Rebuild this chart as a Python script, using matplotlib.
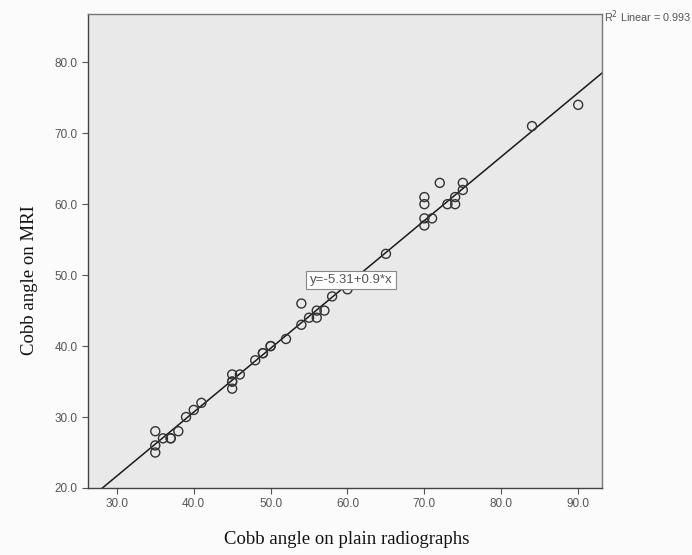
import matplotlib
matplotlib.use("Agg")
import matplotlib.pyplot as plt
import numpy as np

x_vals = [35, 35, 35, 36, 37, 37, 38, 39, 40, 41, 45, 45, 45, 45, 46, 48, 49, 49, 50, 50,
          52, 54, 54, 55, 56, 56, 57, 58, 60, 65, 70, 70, 70, 70, 71, 72, 73, 74, 74, 75, 75, 84, 90]
y_vals = [28, 26, 25, 27, 27, 27, 28, 30, 31, 32, 36, 35, 35, 34, 36, 38, 39, 39, 40, 40,
          41, 46, 43, 44, 45, 44, 45, 47, 48, 53, 61, 60, 58, 57, 58, 63, 60, 61, 60, 63, 62, 71, 74]
intercept = -5.31
slope = 0.9
r2_label = "R$^2$ Linear = 0.993"
eq_label = "y=-5.31+0.9*x"
x_ticks = [30, 40, 50, 60, 70, 80, 90]
y_ticks = [20, 30, 40, 50, 60, 70, 80]

fig = plt.figure(figsize=(6.92, 5.55), dpi=100, facecolor="#fbfbfb")
ax = fig.add_axes([88/692, 1-488/555, (602-88)/692, (488-14)/555])
ax.set_facecolor("#e9e9e9")
ax.set_xlim(26.25, 93.1)
ax.set_ylim(20, 86.8)

xl = np.array(ax.get_xlim())
ax.plot(xl, intercept + slope*xl, color="#1a1a1a", lw=1.1, zorder=2)
ax.scatter(x_vals, y_vals, s=42, facecolors="none", edgecolors="#333333", linewidths=1.0, zorder=3)

ax.set_xticks(x_ticks)
ax.set_yticks(y_ticks)
ax.set_xticklabels([f"{v:.1f}" for v in x_ticks])
ax.set_yticklabels([f"{v:.1f}" for v in y_ticks])
ax.tick_params(axis="both", direction="out", length=4, width=0.8, color="#555555",
               labelsize=8.5, labelcolor="#555555")
for lab in ax.get_xticklabels() + ax.get_yticklabels():
    lab.set_family("Liberation Sans")
for s in ax.spines.values():
    s.set_color("#777777")
    s.set_linewidth(1.0)
ax.spines["left"].set_color("#444444")
ax.spines["bottom"].set_color("#444444")

ax.annotate(eq_label, xy=(351/692, 1-280/555), xycoords="figure fraction",
            fontsize=9.5, family="Liberation Sans", color="#555555",
            ha="center", va="center",
            bbox=dict(boxstyle="square,pad=0.25", facecolor="white", edgecolor="#888888", lw=0.8),
            zorder=4)

fig.text(604/692, 1-17/555, r2_label, fontsize=7.8, family="Liberation Sans", color="#555555",
         ha="left", va="center")

fig.text(30/692, 1-280/555, "Cobb angle on MRI", fontsize=13.5, family="Liberation Serif",
         rotation=90, ha="center", va="center", color="#111111")
fig.text(347/692, 1-540/555, "Cobb angle on plain radiographs", fontsize=13.5,
         family="Liberation Serif", ha="center", va="center", color="#111111")

fig.savefig("out.png", dpi=100, facecolor=fig.get_facecolor())
